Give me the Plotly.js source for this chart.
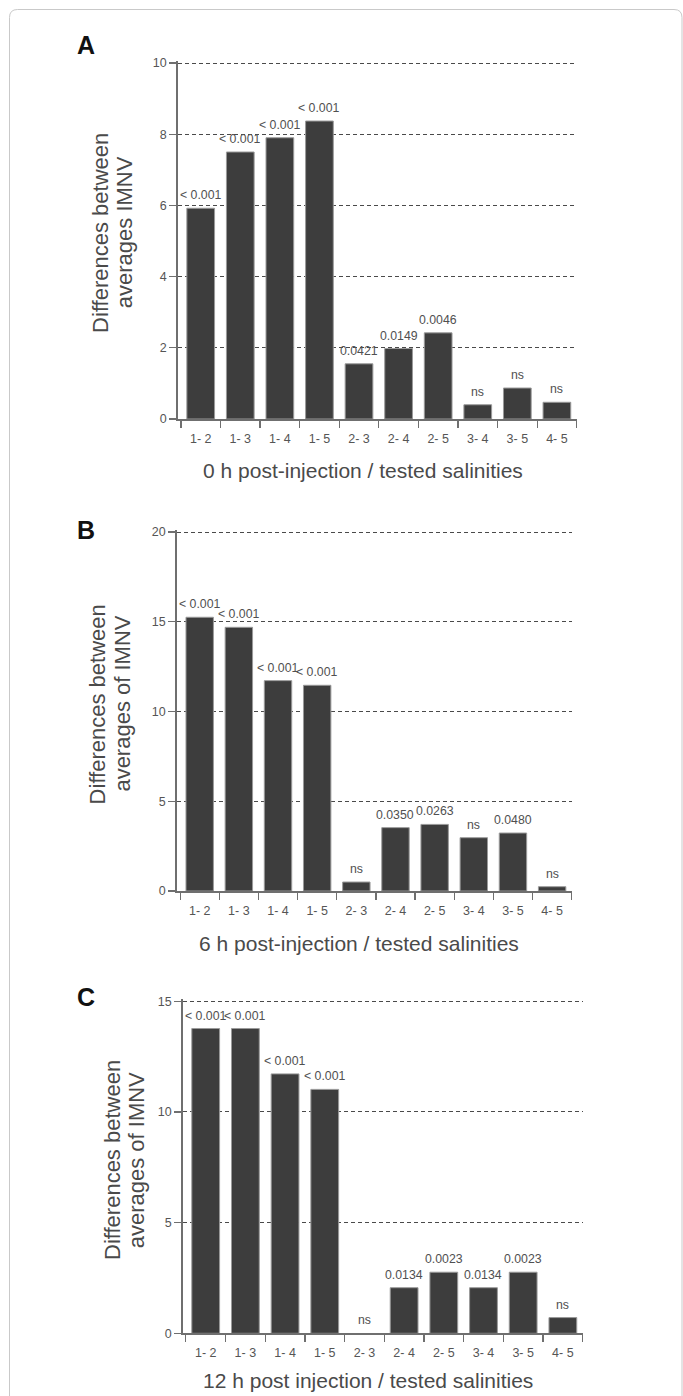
<!DOCTYPE html>
<html>
<head>
<meta charset="utf-8">
<script src="https://cdn.plot.ly/plotly-3.0.1.min.js"></script>
<style>
  html, body { margin: 0; padding: 0; background: #ffffff; }
  #chart { width: 683px; height: 1396px; }
</style>
</head>
<body>
<div id="chart"></div>
<script>
// ---------- data ----------
const categories = ['1- 2', '1- 3', '1- 4', '1- 5', '2- 3', '2- 4', '2- 5', '3- 4', '3- 5', '4- 5'];

const valuesA = [5.92, 7.50, 7.90, 8.37, 1.55, 1.98, 2.42, 0.40, 0.87, 0.47];
const pLabelsA = ['< 0.001', '< 0.001', '< 0.001', '< 0.001', '0.0421', '0.0149', '0.0046', 'ns', 'ns', 'ns'];

const valuesB = [15.25, 14.69, 11.72, 11.46, 0.50, 3.53, 3.71, 2.97, 3.23, 0.24];
const pLabelsB = ['< 0.001', '< 0.001', '< 0.001', '< 0.001', 'ns', '0.0350', '0.0263', 'ns', '0.0480', 'ns'];

const valuesC = [13.77, 13.77, 11.72, 11.02, 0, 2.06, 2.76, 2.06, 2.76, 0.71];
const pLabelsC = ['< 0.001', '< 0.001', '< 0.001', '< 0.001', 'ns', '0.0134', '0.0023', '0.0134', '0.0023', 'ns'];

const panelLetters = ['A', 'B', 'C'];
const xTitles = ['0 h post-injection / tested salinities', '6 h post-injection / tested salinities', '12 h post injection / tested salinities'];
const yTitleLine1 = ['Differences between', 'Differences between', 'Differences between'];
const yTitleLine2 = ['averages IMNV', 'averages of IMNV', 'averages of IMNV'];
const yMax = [10, 20, 15];
const yDticks = [2, 5, 5];

// ---------- styling / layout helpers ----------
const W = 683, H = 1396;
const px = v => v / W;          // page x pixel -> paper
const py = v => 1 - v / H;      // page y pixel -> paper

const BAR_COLOR = '#3d3d3d';
const AXIS_COLOR = '#6f6f6f';
const FAMILY = 'Arial, "Liberation Sans", sans-serif';
const TICK_FONT = { family: FAMILY, size: 12.5, color: '#555555' };
const LABEL_FONT = { family: FAMILY, size: 12.3, color: '#505050' };
const TITLE_FONT = { family: FAMILY, size: 21, color: '#4a4a4a' };
const YTITLE_FONT = { family: FAMILY, size: 22, color: '#4a4a4a' };
const LETTER_FONT = { family: FAMILY, size: 25, color: '#111111' };

// panel geometry (page pixels)
const panels = [
  { x0: 177.7, x1: 576.7, yTop: 63,     yBot: 419,    letter: [86, 45],     xt: [362.5, 471],  yt: [100.4, 124.7, 232.5] },
  { x0: 176.7, x1: 571.7, yTop: 532,    yBot: 891,    letter: [85.5, 530],  xt: [359, 943.3],  yt: [97.4, 121.6, 704] },
  { x0: 182.7, x1: 582.7, yTop: 1001.3, yBot: 1333.3, letter: [85.5, 996.5], xt: [368, 1380.5], yt: [112, 136.3, 1160] }
];

const allValues = [valuesA, valuesB, valuesC];
const allLabels = [pLabelsA, pLabelsB, pLabelsC];

const data = [];
const layout = {
  width: W, height: H,
  margin: { l: 0, r: 0, t: 0, b: 0 },
  paper_bgcolor: '#ffffff',
  plot_bgcolor: 'rgba(0,0,0,0)',
  showlegend: false,
  bargap: 0.3,
  annotations: [],
  shapes: []
};

// boundaries between categories (for the inner half of the crossing ticks)
const boundaries = categories.map((_, k) => k + 0.5);

panels.forEach((p, i) => {
  const n = i === 0 ? '' : String(i + 1);
  const xa = 'x' + n, ya = 'y' + n;
  const extraPx = 2;
  const pxPerUnit = (p.yBot - p.yTop) / yMax[i];

  data.push({
    type: 'bar',
    x: categories,
    y: allValues[i],
    xaxis: xa, yaxis: ya,
    marker: { color: BAR_COLOR, line: { color: '#9a9a9a', width: allValues[i].map(v => (v > 0 ? 1 : 0)) } },
    hoverinfo: 'x+y'
  });

  layout['xaxis' + n] = {
    type: 'category',
    domain: [px(p.x0), px(p.x1)],
    anchor: ya,
    categoryorder: 'array', categoryarray: categories,
    showline: true, linecolor: AXIS_COLOR, linewidth: 1.5,
    ticks: 'outside', tickson: 'boundaries', ticklen: 7, tickwidth: 1.2, tickcolor: AXIS_COLOR,
    ticklabelstandoff: 7,
    tickfont: TICK_FONT,
    showgrid: false, zeroline: false, fixedrange: true
  };
  // overlay axis for the upward half of the category boundary ticks
  const ov = 'xaxis' + (i + 4);
  layout[ov] = {
    type: 'linear',
    overlaying: xa,
    anchor: ya,
    range: [-0.5, categories.length - 0.5],
    tickmode: 'array', tickvals: boundaries,
    ticks: 'inside', ticklen: 7, tickwidth: 1.2, tickcolor: AXIS_COLOR,
    showticklabels: false, showline: false, showgrid: false, zeroline: false, fixedrange: true
  };
  layout['yaxis' + n] = {
    domain: [py(p.yBot), py(p.yTop - extraPx)],
    anchor: xa,
    range: [0, yMax[i] + extraPx / pxPerUnit],
    tickmode: 'linear', tick0: 0, dtick: yDticks[i],
    showline: true, linecolor: AXIS_COLOR, linewidth: 1.5,
    ticks: 'outside', ticklen: 7, tickwidth: 1.2, tickcolor: AXIS_COLOR,
    tickfont: TICK_FONT,
    showgrid: true, gridcolor: '#4a4a4a', gridwidth: 1, griddash: '4px,3px',
    zeroline: false, fixedrange: true
  };

  // p-value labels above bars
  categories.forEach((c, k) => {
    layout.annotations.push({
      xref: xa, yref: ya, x: c, y: allValues[i][k],
      text: allLabels[i][k], showarrow: false,
      xanchor: 'center', yanchor: 'middle', yshift: 13,
      font: LABEL_FONT
    });
  });

  // panel letter
  layout.annotations.push({
    xref: 'paper', yref: 'paper', x: px(p.letter[0]), y: py(p.letter[1]),
    text: '<b>' + panelLetters[i] + '</b>', showarrow: false,
    xanchor: 'center', yanchor: 'middle', font: LETTER_FONT
  });
  // x-axis title
  layout.annotations.push({
    xref: 'paper', yref: 'paper', x: px(p.xt[0]), y: py(p.xt[1]),
    text: xTitles[i], showarrow: false,
    xanchor: 'center', yanchor: 'middle', font: TITLE_FONT
  });
  // y-axis title (two lines)
  layout.annotations.push({
    xref: 'paper', yref: 'paper', x: px(p.yt[0]), y: py(p.yt[2]),
    text: yTitleLine1[i], showarrow: false, textangle: -90,
    xanchor: 'center', yanchor: 'middle', font: YTITLE_FONT
  });
  layout.annotations.push({
    xref: 'paper', yref: 'paper', x: px(p.yt[1]), y: py(p.yt[2]),
    text: yTitleLine2[i], showarrow: false, textangle: -90,
    xanchor: 'center', yanchor: 'middle', font: YTITLE_FONT
  });
});

// rounded frame around the figure
const fx0 = px(9.5), fx1 = px(682), fyTop = py(9.5), rx = 8 / W, ry = 8 / H;
layout.shapes.push({
  type: 'path', xref: 'paper', yref: 'paper', layer: 'below',
  path: 'M ' + fx0 + ',' + (-0.01) +
        ' L ' + fx0 + ',' + (fyTop - ry) +
        ' Q ' + fx0 + ',' + fyTop + ' ' + (fx0 + rx) + ',' + fyTop +
        ' L ' + (fx1 - rx) + ',' + fyTop +
        ' Q ' + fx1 + ',' + fyTop + ' ' + fx1 + ',' + (fyTop - ry) +
        ' L ' + fx1 + ',' + (-0.01),
  line: { color: '#c9c9c9', width: 1 }
});

Plotly.newPlot('chart', data, layout, { displayModeBar: false, staticPlot: true });
</script>
</body>
</html>
